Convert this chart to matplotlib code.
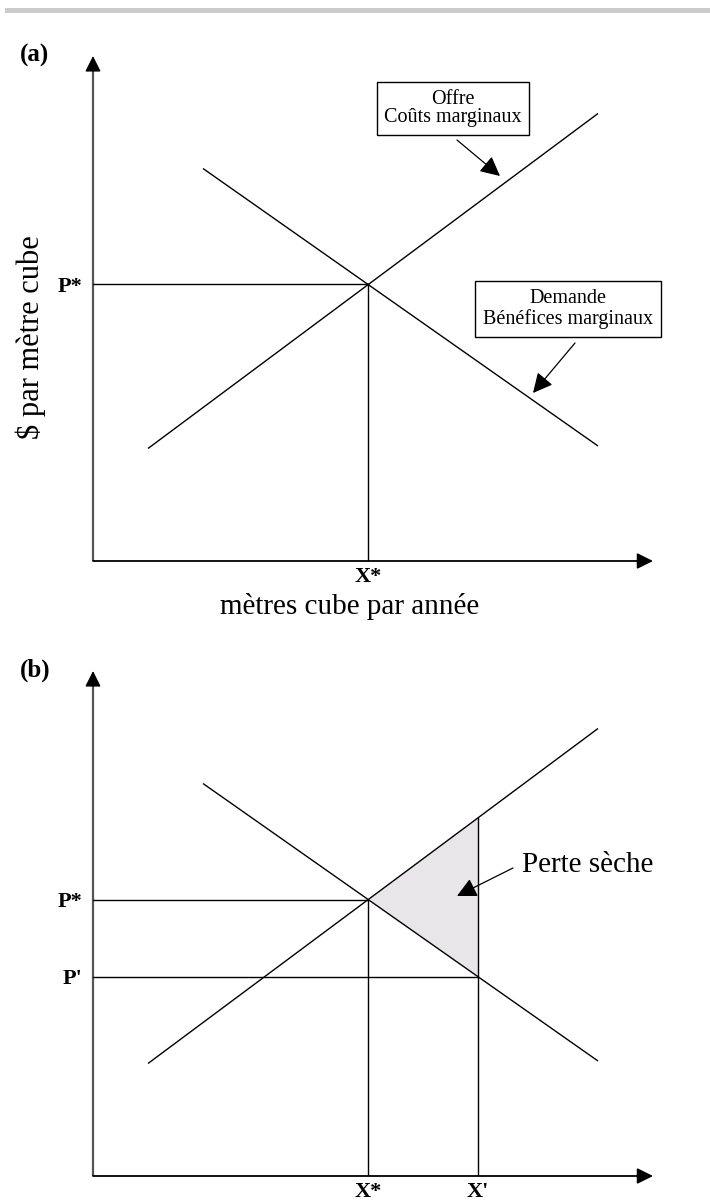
import matplotlib
matplotlib.use("Agg")
import matplotlib.pyplot as plt
from matplotlib.patches import Rectangle, Polygon
import numpy as np

# ---- data (abstract units: quantity / price) ----
supply_q = [1.1, 10.1]
supply_p = [2.25, 8.95]
demand_q = [2.2, 10.1]
demand_p = [7.85, 2.3]
q_star = 5.5
p_star = 5.53
q_prime = 7.7
p_prime = 3.98
x_max = 11.2
y_max = 10.1

labels_a_x = ["X*"]
labels_a_y = ["P*"]
labels_b_x = ["X*", "X'"]
labels_b_y = ["P*", "P'"]

FONT = ["Liberation Serif", "DejaVu Serif"]
plt.rcParams['font.family'] = FONT

W, H = 710, 1203
fig = plt.figure(figsize=(W / 100, H / 100), dpi=100)

# top grey band
fig.add_artist(Rectangle((5 / W, 1 - 13 / H), (W - 5) / W, 5 / H,
                         transform=fig.transFigure, color="#cccccc", lw=0))

def supply_at(q):
    return supply_p[0] + (supply_p[1] - supply_p[0]) * (q - supply_q[0]) / (supply_q[1] - supply_q[0])

def demand_at(q):
    return demand_p[0] + (demand_p[1] - demand_p[0]) * (q - demand_q[0]) / (demand_q[1] - demand_q[0])

def make_axes(bottom_px):
    ax = fig.add_axes([93 / W, 1 - bottom_px / H, 560 / W, 505 / H])
    ax.set_xlim(0, x_max)
    ax.set_ylim(0, y_max)
    for s in ax.spines.values():
        s.set_visible(False)
    ax.set_facecolor("none")
    ax.tick_params(length=0)
    # axes arrows
    ax.annotate("", xy=(x_max, 0), xytext=(0, 0),
                arrowprops=dict(arrowstyle="-|>", mutation_scale=24, lw=1.3,
                                color="black", shrinkA=0, shrinkB=0),
                annotation_clip=False)
    ax.plot([0, 0], [0, y_max - 0.25], color="#555555", lw=1.6,
            solid_capstyle="butt", clip_on=False)
    ax.annotate("", xy=(0, y_max), xytext=(0, y_max - 0.3),
                arrowprops=dict(arrowstyle="-|>", mutation_scale=24, lw=1.0,
                                color="black", shrinkA=0, shrinkB=0),
                annotation_clip=False)
    ax.plot(supply_q, supply_p, color="black", lw=1.0, solid_capstyle="butt")
    ax.plot(demand_q, demand_p, color="black", lw=1.0, solid_capstyle="butt")
    return ax

def arrow(ax, start, end):
    ax.annotate("", xy=end, xytext=start,
                arrowprops=dict(arrowstyle="-|>", mutation_scale=30, lw=0.9,
                                color="black", shrinkA=0, shrinkB=0),
                annotation_clip=False)

tick_font = dict(fontsize=16, fontweight="bold")

# ---------------- panel (a) ----------------
axa = make_axes(561)
axa.plot([0, q_star], [p_star, p_star], color="black", lw=1.0)
axa.plot([q_star, q_star], [0, p_star], color="black", lw=1.0)
axa.set_xticks([q_star])
axa.set_xticklabels(labels_a_x, **tick_font)
axa.set_yticks([p_star])
axa.set_yticklabels(labels_a_y, **tick_font)
axa.tick_params(axis="x", pad=4)
axa.tick_params(axis="y", pad=8)

box = dict(boxstyle="square,pad=0.38", fc="white", ec="black", lw=1.0)
axa.text(7.2, 9.05, "Offre\nCoûts marginaux", ha="center", va="center",
         fontsize=14.5, linespacing=0.98, bbox=box)
axa.text(9.5, 5.04, "Demande\nBénéfices marginaux", ha="center", va="center",
         fontsize=14.5, linespacing=1.12, bbox=box, clip_on=False)
arrow(axa, (7.28, 8.42), (8.14, 7.70))
arrow(axa, (9.64, 4.36), (8.80, 3.36))

# ---------------- panel (b) ----------------
axb = make_axes(1176)
tri_q = [q_star, q_prime, q_prime]
tri_p = [p_star, supply_at(q_prime), demand_at(q_prime)]
axb.add_patch(Polygon(np.column_stack([tri_q, tri_p]), closed=True,
                      fc="#e8e6e8", ec="none", zorder=0))
axb.plot([0, q_star], [p_star, p_star], color="black", lw=1.0)
axb.plot([0, q_prime], [p_prime, p_prime], color="black", lw=1.0)
axb.plot([q_star, q_star], [0, p_star], color="black", lw=1.0)
axb.plot([q_prime, q_prime], [0, supply_at(q_prime)], color="black", lw=1.0)
axb.set_xticks([q_star, q_prime])
axb.set_xticklabels(labels_b_x, **tick_font)
axb.set_yticks([p_star, p_prime])
axb.set_yticklabels(labels_b_y, **tick_font)
axb.tick_params(axis="x", pad=4)
axb.tick_params(axis="y", pad=8)
axb.text(8.58, 6.22, "Perte sèche", ha="left", va="center", fontsize=21)
arrow(axb, (8.40, 6.16), (7.28, 5.60))

# ---------------- figure texts ----------------
fig.text(20 / W, 1 - 55 / H, "(a)", ha="left", va="center", fontsize=18, fontweight="bold")
fig.text(20 / W, 1 - 670 / H, "(b)", ha="left", va="center", fontsize=18, fontweight="bold")
fig.text(31 / W, 1 - 337 / H, "$ par mètre cube", rotation=90, ha="center",
         va="center", fontsize=22)
fig.text(350 / W, 1 - 606 / H, "mètres cube par année", ha="center",
         va="center", fontsize=21)

fig.savefig("out.png", dpi=100)
